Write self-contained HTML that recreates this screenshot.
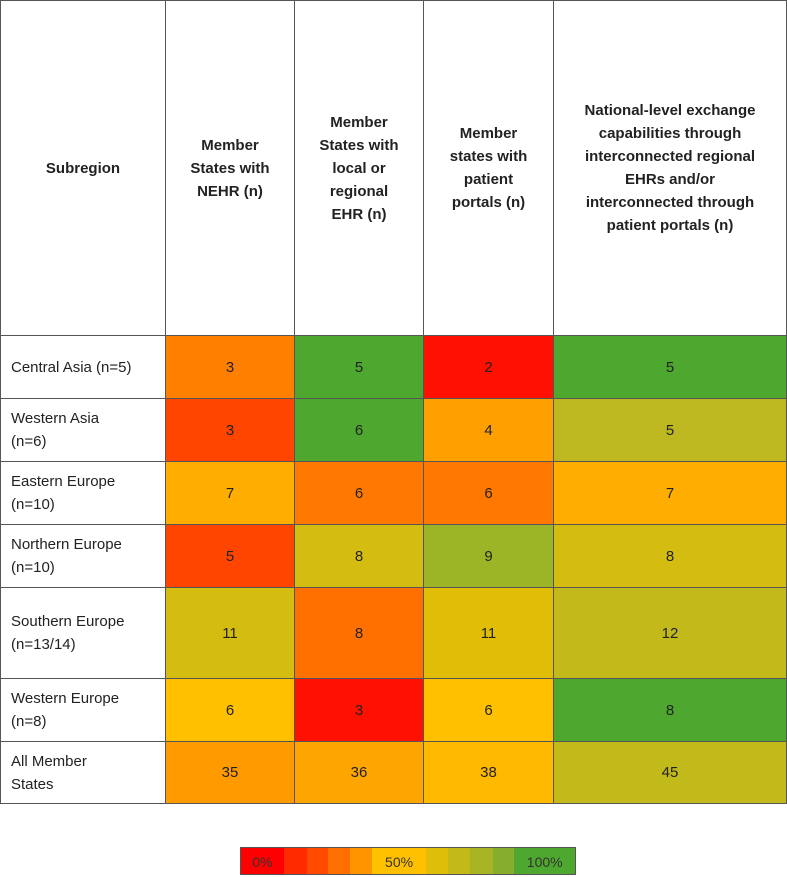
<!DOCTYPE html>
<html><head><meta charset="utf-8"><style>
body{margin:0;width:787px;height:877px;background:#fff;font-family:"Liberation Sans",sans-serif;position:relative;overflow:hidden}
table{position:absolute;left:0;top:0;border-collapse:collapse;table-layout:fixed;width:786px}
td,th{border:1px solid #555;font-size:15px;color:#222;padding:0}
th{font-weight:bold;text-align:center;line-height:23px;padding:0 4px}
td{text-align:center;line-height:23px}
td.lab{text-align:left;padding-left:10px;background:#fff}
#legend{position:absolute;left:240px;top:847px;height:28px;width:336px;display:flex;border:1px solid #555;box-sizing:border-box}
#legend div{height:100%;font-size:14px;line-height:28px;text-align:center;color:#333}
</style></head><body>
<table>
<colgroup><col style="width:165px"><col style="width:129px"><col style="width:129px"><col style="width:130px"><col style="width:233px"></colgroup>
<thead><tr style="height:335px">
<th>Subregion</th>
<th>Member<br>States with<br>NEHR (n)</th>
<th>Member<br>States with<br>local or<br>regional<br>EHR (n)</th>
<th>Member<br>states with<br>patient<br>portals (n)</th>
<th>National-level exchange<br>capabilities through<br>interconnected regional<br>EHRs and/or<br>interconnected through<br>patient portals (n)</th>
</tr></thead>
<tbody id="tb"></tbody>
</table>
<div id="legend"></div>
<script>
const subregions=["Central Asia (n=5)","Western Asia<br>(n=6)","Eastern Europe<br>(n=10)","Northern Europe<br>(n=10)","Southern Europe<br>(n=13/14)","Western Europe<br>(n=8)","All Member<br>States"];
const nehr=[3,3,7,5,11,6,35];
const localEhr=[5,6,6,8,8,3,36];
const portals=[2,4,6,9,11,6,38];
const exchange=[5,5,7,8,12,8,45];
const cellColors=[
["#FF7F00","#4EA72E","#FF1000","#4EA72E"],
["#FF4500","#4EA72E","#FFA000","#BDB820"],
["#FFAE00","#FF7800","#FF7800","#FFAE00"],
["#FF4500","#D4BC10","#9BB526","#D4BC10"],
["#D4BC10","#FF7000","#E0BE08","#C2BA1A"],
["#FFC000","#FF1000","#FFC000","#4EA72E"],
["#FF9A00","#FFA500","#FFBA00","#C2BA1A"]];
const rowHeights=[63,63,63,63,91,63,62];
const legendColors=["#FF0000","#FF2A00","#FF4A00","#FF6E00","#FF9400","#FFC000","#DFBE0A","#C3B918","#A6B424","#86AE2C","#4EA72E"];
const legendLabels=["0%","","","","","50%","","","","","100%"];
const legendWidths=[43,23,22,22,22,54,22,22,23,22,61];
const cols=[nehr,localEhr,portals,exchange];
const colNames=["nehr","local-ehr","portals","exchange"];
const tb=document.getElementById('tb');
subregions.forEach((s,i)=>{
 const tr=document.createElement('tr');
 tr.style.height=rowHeights[i]+'px';
 
 
 const l=document.createElement('td');l.className='lab';l.innerHTML=s;
 
 
 tr.appendChild(l);
 cols.forEach((c,j)=>{
  const td=document.createElement('td');
  td.textContent=c[i];td.style.background=cellColors[i][j];
  
  
  tr.appendChild(td);
 });
 tb.appendChild(tr);
});
const lg=document.getElementById('legend');
legendColors.forEach((c,i)=>{
 const d=document.createElement('div');
 d.style.background=c;d.style.width=legendWidths[i]+'px';d.textContent=legendLabels[i];
 
 
 lg.appendChild(d);
});
</script>
</body></html>
